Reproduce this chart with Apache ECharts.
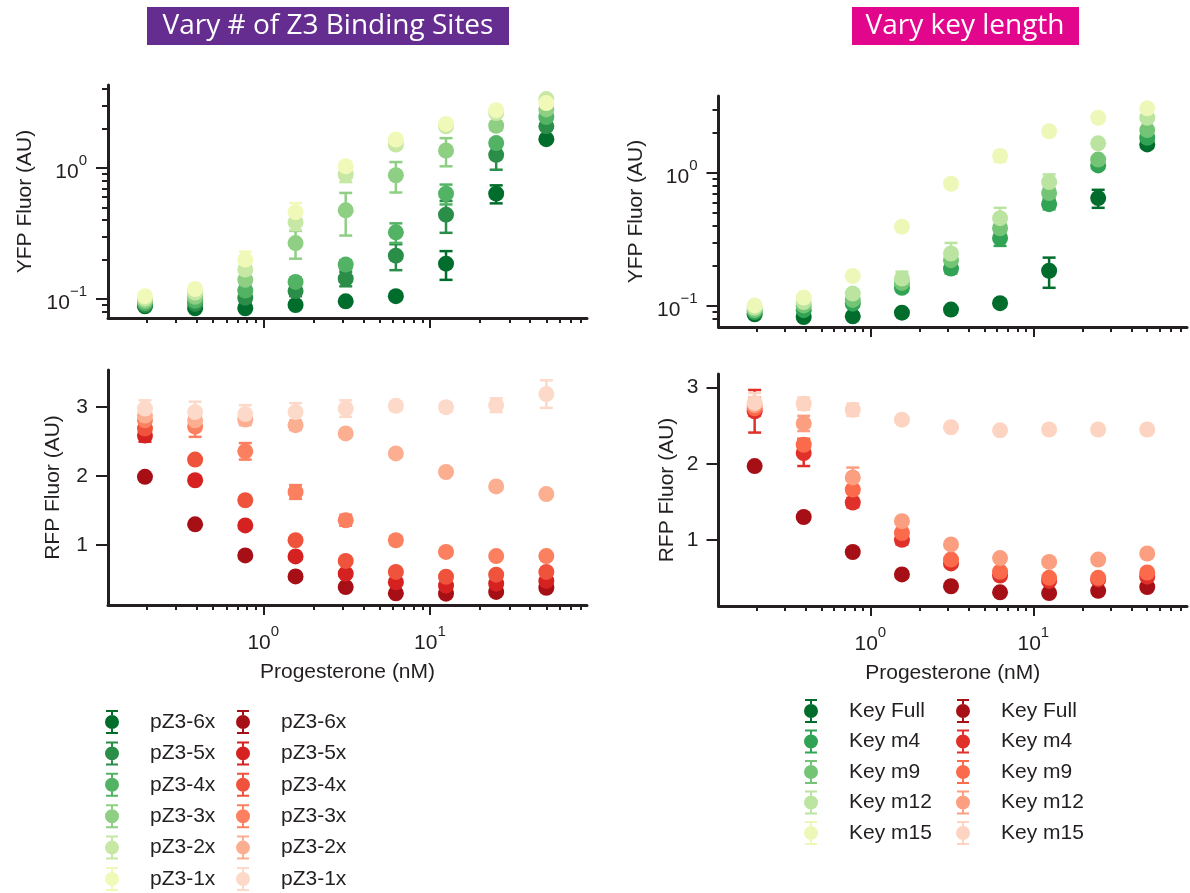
<!DOCTYPE html>
<html>
<head>
<meta charset="utf-8">
<title>Progesterone response</title>
<script src="https://cdn.jsdelivr.net/npm/echarts@6.0.0/dist/echarts.min.js"></script>
<style>
html, body { margin: 0; padding: 0; background: #fff; }
#main { width: 1190px; height: 893px; }
</style>
</head>
<body>
<div id="main"></div>
<script>
// progesterone doses (nM), same for every panel
var conc = [0.195, 0.39, 0.78, 1.5625, 3.125, 6.25, 12.5, 25, 50];

// --- left: vary # of Z3 binding sites (6x .. 1x) ---
var z3Names = ['pZ3-6x', 'pZ3-5x', 'pZ3-4x', 'pZ3-3x', 'pZ3-2x', 'pZ3-1x'];
var z3Yfp = [
    [0.088, 0.085, 0.085, 0.090, 0.096, 0.105, 0.186, 0.637, 1.66],
    [0.090, 0.092, 0.102, 0.115, 0.143, 0.214, 0.44, 1.26, 2.08],
    [0.093, 0.097, 0.116, 0.135, 0.183, 0.323, 0.637, 1.55, 2.45],
    [0.097, 0.104, 0.140, 0.267, 0.475, 0.88, 1.36, 2.10, 2.80],
    [0.101, 0.112, 0.168, 0.385, 0.89, 1.51, 2.08, 2.63, 3.36],
    [0.105, 0.119, 0.200, 0.46, 1.03, 1.65, 2.17, 2.76, 3.13]
];
var z3YfpErr = [
    [0.003, 0.003, 0.004, 0.004, 0.004, 0.006, 0.046, 0.10, 0.08],
    [0.004, 0.004, 0.008, 0.010, 0.018, 0.048, 0.12, 0.29, 0.12],
    [0.004, 0.005, 0.010, 0.010, 0.015, 0.055, 0.11, 0.10, 0.10],
    [0.005, 0.006, 0.020, 0.064, 0.17, 0.23, 0.33, 0.15, 0.15],
    [0.005, 0.006, 0.020, 0.05, 0.11, 0.08, 0.10, 0.12, 0.15],
    [0.005, 0.008, 0.030, 0.08, 0.08, 0.10, 0.10, 0.12, 0.15]
];
var z3Rfp = [
    [1.99, 1.30, 0.85, 0.545, 0.39, 0.30, 0.295, 0.32, 0.38],
    [2.59, 1.94, 1.285, 0.835, 0.585, 0.46, 0.41, 0.44, 0.48],
    [2.69, 2.24, 1.65, 1.07, 0.77, 0.61, 0.54, 0.57, 0.61],
    [2.81, 2.72, 2.36, 1.77, 1.36, 1.07, 0.90, 0.84, 0.84],
    [2.88, 2.81, 2.82, 2.74, 2.62, 2.33, 2.06, 1.85, 1.74],
    [2.98, 2.93, 2.90, 2.93, 2.98, 3.02, 3.00, 3.03, 3.19]
];
var z3RfpErr = [
    [0.02, 0.02, 0.02, 0.02, 0.02, 0.02, 0.02, 0.02, 0.02],
    [0.09, 0.05, 0.04, 0.03, 0.03, 0.02, 0.02, 0.02, 0.02],
    [0.05, 0.04, 0.05, 0.04, 0.03, 0.02, 0.02, 0.02, 0.02],
    [0.06, 0.15, 0.12, 0.10, 0.08, 0.06, 0.05, 0.04, 0.04],
    [0.10, 0.08, 0.08, 0.07, 0.03, 0.03, 0.03, 0.03, 0.03],
    [0.12, 0.15, 0.13, 0.13, 0.12, 0.06, 0.06, 0.10, 0.20]
];

// --- right: vary key length ---
var keyNames = ['Key Full', 'Key m4', 'Key m9', 'Key m12', 'Key m15'];
var keyYfp = [
    [0.0865, 0.0826, 0.0836, 0.089, 0.094, 0.105, 0.184, 0.647, 1.64],
    [0.090, 0.093, 0.104, 0.137, 0.191, 0.323, 0.583, 1.14, 1.84],
    [0.093, 0.101, 0.111, 0.149, 0.221, 0.384, 0.706, 1.26, 2.10],
    [0.097, 0.107, 0.124, 0.161, 0.248, 0.457, 0.855, 1.67, 2.60],
    [0.101, 0.1156, 0.168, 0.395, 0.83, 1.34, 2.06, 2.60, 3.06]
];
var keyYfpErr = [
    [0.003, 0.004, 0.004, 0.004, 0.004, 0.006, 0.047, 0.10, 0.10],
    [0.004, 0.004, 0.005, 0.008, 0.015, 0.04, 0.05, 0.06, 0.10],
    [0.004, 0.004, 0.006, 0.008, 0.015, 0.03, 0.06, 0.06, 0.10],
    [0.004, 0.005, 0.008, 0.020, 0.05, 0.09, 0.12, 0.08, 0.10],
    [0.004, 0.006, 0.010, 0.020, 0.05, 0.12, 0.08, 0.10, 0.10]
];
var keyRfp = [
    [1.97, 1.30, 0.84, 0.545, 0.39, 0.31, 0.30, 0.33, 0.38],
    [2.69, 2.14, 1.49, 1.00, 0.69, 0.53, 0.46, 0.48, 0.515],
    [2.73, 2.25, 1.66, 1.09, 0.74, 0.58, 0.50, 0.50, 0.57],
    [2.77, 2.53, 1.82, 1.245, 0.94, 0.76, 0.71, 0.74, 0.82],
    [2.80, 2.79, 2.71, 2.58, 2.48, 2.44, 2.45, 2.45, 2.45]
];
var keyRfpErr = [
    [0.02, 0.02, 0.02, 0.02, 0.02, 0.02, 0.02, 0.02, 0.02],
    [0.28, 0.17, 0.06, 0.06, 0.03, 0.02, 0.02, 0.02, 0.02],
    [0.10, 0.08, 0.05, 0.04, 0.03, 0.02, 0.02, 0.02, 0.02],
    [0.10, 0.10, 0.13, 0.04, 0.03, 0.02, 0.02, 0.02, 0.02],
    [0.13, 0.08, 0.08, 0.03, 0.02, 0.02, 0.02, 0.02, 0.02]
];

// tick positions
var xMajor = [1, 10];
var xMinor = [0.2, 0.3, 0.4, 0.5, 0.6, 0.7, 0.8, 0.9, 2, 3, 4, 5, 6, 7, 8, 9, 20, 30, 40, 50, 60, 70, 80];
var yLogMajor = [0.1, 1];
var yLogMinor = [0.08, 0.09, 0.2, 0.3, 0.4, 0.5, 0.6, 0.7, 0.8, 0.9, 2, 3, 4];
var yLinTicks = [1, 2, 3];

var z3Greens = ['#006d2c', '#2a8d48', '#52b365', '#8ecf84', '#c6e8a4', '#f1f9b9'];
var z3Reds = ['#a50f15', '#d52221', '#f0533b', '#fb8060', '#fcae91', '#fdd9c9'];
var keyGreens = ['#006d2c', '#31a354', '#74c476', '#bae4a0', '#edf8b8'];
var keyReds = ['#a50f15', '#e0302a', '#fb6a4a', '#fc9e80', '#fdd3c1'];

var ink = '#231f20';
var font = '"Liberation Sans", Arial, sans-serif';

var myChart = echarts.init(document.getElementById('main'));

function pow10(v) {
    var e = Math.round(Math.log(v) / Math.LN10);
    return '{b|10}{s|' + (e < 0 ? '\u2212' + (-e) : e) + '}';
}
var powRich = {
    b: {fontSize: 21, fontFamily: font, color: ink, lineHeight: 30, verticalAlign: 'bottom'},
    s: {fontSize: 15, fontFamily: font, color: ink, lineHeight: 30, verticalAlign: 'top'}
};
var nameStyle = {fontSize: 21, fontFamily: font, color: ink};

// main + minor axis pair for a log axis (two tick lengths)
function logAxes(gi, min, max, major, minor, majorLen, showLabel, extra) {
    var main = {
        type: 'log', gridIndex: gi, min: min, max: max,
        axisLine: {show: true, onZero: false, lineStyle: {color: ink, width: 3}},
        axisTick: {show: true, length: majorLen, customValues: major, lineStyle: {color: ink, width: 2}},
        axisLabel: {show: showLabel, customValues: major, formatter: pow10, rich: powRich, color: ink},
        splitLine: {show: false},
        nameMoveOverlap: false
    };
    for (var k in extra) main[k] = extra[k];
    var sub = {
        type: 'log', gridIndex: gi, min: min, max: max, position: extra.position,
        axisLine: {show: false},
        axisTick: {show: true, length: majorLen / 2, customValues: minor, lineStyle: {color: ink, width: 2}},
        axisLabel: {show: false},
        splitLine: {show: false}
    };
    return [main, sub];
}

var xMin = 0.117, xMax = 87.7;
var xAxes = [], yAxes = [];
// grid 0 (top left), 1 (bottom left), 2 (top right), 3 (bottom right)
[0, 1, 2, 3].forEach(function (gi) {
    var bottomRow = gi === 1 || gi === 3;
    var extra = {position: 'bottom'};
    if (bottomRow) {
        extra.name = 'Progesterone (nM)';
        extra.nameLocation = 'middle';
        extra.nameGap = 57;
        extra.nameTextStyle = nameStyle;
        extra.axisLabel = {show: true, customValues: xMajor, formatter: pow10, rich: powRich, color: ink, margin: 19};
    }
    var pair = logAxes(gi, xMin, xMax, xMajor, xMinor, 10, false, extra);
    xAxes.push(pair[0], pair[1]);
});

// y axes: indices 0,1 TL; 2 BL; 3,4 TR; 5 BR
var yTL = logAxes(0, 0.0716, 4.3, yLogMajor, yLogMinor, 12, true, {
    position: 'left', name: 'YFP Fluor (AU)', nameLocation: 'middle', nameRotate: 90,
    nameGap: 72, nameTextStyle: nameStyle
});
yTL[0].axisLabel.margin = 21;
var yTR = logAxes(2, 0.0695, 3.79, yLogMajor, yLogMinor, 12, true, {
    position: 'left', name: 'YFP Fluor (AU)', nameLocation: 'middle', nameRotate: 90,
    nameGap: 72, nameTextStyle: nameStyle
});
yTR[0].axisLabel.margin = 21;

function linY(gi, min, max, gap) {
    return {
        type: 'value', gridIndex: gi, min: min, max: max, position: 'left',
        axisLine: {show: true, onZero: false, lineStyle: {color: ink, width: 3}},
        axisTick: {show: true, length: 12, customValues: yLinTicks, lineStyle: {color: ink, width: 2}},
        axisLabel: {show: true, customValues: yLinTicks, margin: 20, fontSize: 21, fontFamily: font, color: ink},
        splitLine: {show: false},
        name: 'RFP Fluor (AU)', nameLocation: 'middle', nameRotate: 90, nameGap: gap,
        nameTextStyle: nameStyle, nameMoveOverlap: false
    };
}
yAxes.push(yTL[0], yTL[1], linY(1, 0.13, 3.54, 44), yTR[0], yTR[1], linY(3, 0.13, 3.18, 41));

// error bar drawing
function errBar(params, api) {
    var x = api.value(0);
    var lo = api.coord([x, api.value(1)]);
    var hi = api.coord([x, api.value(2)]);
    var st = {stroke: api.visual('color'), lineWidth: 2.5};
    var w = 6.5;
    return {
        type: 'group',
        children: [
            {type: 'line', shape: {x1: lo[0], y1: lo[1], x2: hi[0], y2: hi[1]}, style: st},
            {type: 'line', shape: {x1: lo[0] - w, y1: lo[1], x2: lo[0] + w, y2: lo[1]}, style: st},
            {type: 'line', shape: {x1: hi[0] - w, y1: hi[1], x2: hi[0] + w, y2: hi[1]}, style: st}
        ]
    };
}

var series = [];
function addPanel(names, vals, errs, colors, xi, yi, suffix) {
    for (var i = 0; i < names.length; i++) {
        var pts = [], bars = [];
        for (var j = 0; j < conc.length; j++) {
            pts.push([conc[j], vals[i][j]]);
            bars.push([conc[j], vals[i][j] - errs[i][j], vals[i][j] + errs[i][j]]);
        }
        series.push({
            type: 'custom', name: names[i] + suffix + ' err', xAxisIndex: xi, yAxisIndex: yi,
            renderItem: errBar, data: bars, itemStyle: {color: colors[i]},
            encode: {x: 0, y: [1, 2]}, silent: true, animation: false
        });
        series.push({
            type: 'scatter', name: names[i] + suffix, xAxisIndex: xi, yAxisIndex: yi,
            data: pts, symbol: 'circle', symbolSize: 16,
            itemStyle: {color: colors[i], opacity: 1}, animation: false
        });
    }
}
addPanel(z3Names, z3Yfp, z3YfpErr, z3Greens, 0, 0, '');
addPanel(z3Names, z3Rfp, z3RfpErr, z3Reds, 2, 2, ' ');
addPanel(keyNames, keyYfp, keyYfpErr, keyGreens, 4, 3, '');
addPanel(keyNames, keyRfp, keyRfpErr, keyReds, 6, 5, ' ');

// circle with error bar, like the plot markers
var errIcon = 'path://M1,0H13V2H8V5H6V2H1Z M0,12A7,7 0 1,1 14,12A7,7 0 1,1 0,12Z M6,19H8V22H13V24H1V22H6Z';

function legendCol(left, top, names, suffix, gap) {
    return {
        orient: 'vertical', left: left, top: top, padding: 0,
        itemWidth: 66, itemHeight: 24, itemGap: gap, icon: errIcon,
        selectedMode: false,
        data: names.map(function (n) { return n + suffix; }),
        formatter: function (n) { return n.trim(); },
        textStyle: {fontSize: 21, fontFamily: font, color: ink}
    };
}

var option = {
    backgroundColor: '#ffffff',
    animation: false,
    grid: [
        {left: 108, top: 85, width: 479, height: 233, outerBoundsMode: 'none'},
        {left: 108, top: 370, width: 479, height: 235, outerBoundsMode: 'none'},
        {left: 718.5, top: 96, width: 468.5, height: 231, outerBoundsMode: 'none'},
        {left: 718.5, top: 374, width: 468.5, height: 232, outerBoundsMode: 'none'}
    ],
    xAxis: xAxes,
    yAxis: yAxes,
    legend: [
        legendCol(105, 710, z3Names, '', 7.4),
        legendCol(236, 710, z3Names, ' ', 7.4),
        legendCol(804, 699, keyNames, '', 6.5),
        legendCol(956, 699, keyNames, ' ', 6.5)
    ],
    graphic: [
        {type: 'rect', left: 147, top: 7, shape: {width: 362, height: 38}, style: {fill: '#662d91'}},
        {type: 'text', x: 328, y: 26, style: {text: 'Vary # of Z3 Binding Sites', fill: '#ffffff',
            fontSize: 28, fontFamily: '"Open Sans", sans-serif', align: 'center', verticalAlign: 'middle'}},
        {type: 'rect', left: 852, top: 7, shape: {width: 227, height: 38}, style: {fill: '#e2068c'}},
        {type: 'text', x: 965, y: 26, style: {text: 'Vary key length', fill: '#ffffff',
            fontSize: 28, fontFamily: '"Open Sans", sans-serif', align: 'center', verticalAlign: 'middle'}}
    ],
    series: series
};

window.onresize = myChart.resize;
myChart.setOption(option);
</script>
</body>
</html>
